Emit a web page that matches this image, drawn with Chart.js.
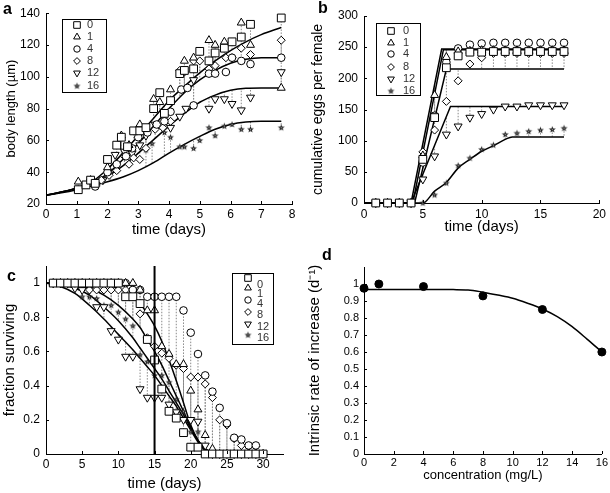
<!DOCTYPE html>
<html lang="en">
<head>
<meta charset="UTF-8">
<title>Growth, reproduction and survival panels</title>
<script src="https://cdn.jsdelivr.net/npm/chart.js@4.4.1/dist/chart.umd.min.js"></script>
<style>
  body { margin: 0; background: #fff; }
  .panel { position: absolute; }
</style>
</head>
<body>
<div class="panel" style="left:0;top:0"><canvas id="chartA" width="305" height="245"></canvas></div>
<div class="panel" style="left:305px;top:0"><canvas id="chartB" width="305" height="245"></canvas></div>
<div class="panel" style="left:0;top:245px"><canvas id="chartC" width="305" height="248"></canvas></div>
<div class="panel" style="left:305px;top:245px"><canvas id="chartD" width="305" height="248"></canvas></div>
<script>
// ---- data: panel a, body length ----
const concLabels = ['0', '1', '4', '8', '12', '16'];

const a0Days = [1.05,1.3,1.45,1.6,2.0,2.3,2.45,2.65,2.85,3.05,3.25,3.5,3.7,3.85,4.05,4.35,4.5,4.8,5.0,5.3,5.5,5.8,6.05,6.35,6.65,7.65];
const a0Len  = [29,32,35,33,48,57,62,56,66,66,68,80,90,77,85,102,104,105,116,110,115,118,122,125,133,137];
const a1Days = [1.05,1.45,2.0,2.45,2.7,3.05,3.5,3.7,4.05,4.5,4.8,5.3,5.5,5.8,6.35,6.65,7.65];
const a1Len  = [34,35,43,63,57,70,86,84,92,110,112,123,120,122,134,120,93];
const a4Days = [1.6,2.0,2.3,2.6,2.8,3.0,3.3,3.6,3.85,4.05,4.4,4.6,4.8,5.3,5.5,5.85,6.05,6.35,6.65,7.65];
const a4Len  = [31,40,45,50,55,62,65,70,72,78,92,93,82,102,102,103,112,110,108,112];
const a8Days = [1.35,1.8,2.05,2.3,2.55,2.7,2.85,3.05,3.25,3.55,3.8,4.05,4.35,4.5,4.8,5.0,5.3,5.5,5.85,6.05,6.35,6.65,7.65];
const a8Len  = [32,35,38,41,50,45,49,48,55,67,68,72,104,103,110,110,105,107,112,112,118,114,123];
const a12Days = [1.45,1.85,2.25,2.55,2.8,3.05,3.25,3.55,4.05,4.35,4.55,4.8,5.3,5.5,5.8,6.05,6.35,6.65,7.65];
const a12Len  = [34,35,51,53,52,57,63,70,68,75,80,98,80,86,86,83,79,87,103];
const a16Days = [1.7,1.85,2.1,3.25,3.45,3.85,4.05,4.35,4.5,4.8,5.0,5.3,5.5,5.8,6.05,6.35,6.65,7.65];
const a16Len  = [33,35,40,54,58,65,62,56,56,55,60,68,63,69,70,67,67,68];

const aCurveDays = [0,0.5,1,1.5,2,2.5,3,3.5,4,4.5,5,5.5,6,6.5,7,7.65];
const aCurveHigh = [25.5,27.5,30,34,42,52,63,74,85,94,102.5,110,116.5,122,126.5,131];
const aCurveMid  = [25.5,27.5,30,33.5,39,48,58,69,80,90,98,104,108.5,111,112,112];
const aCurveLow  = [25.5,27.5,30,33,37.5,44,52,60.5,69,77,84,88.5,91.5,92.8,93,93];
const aCurveMin  = [25.5,27,29,31.5,34,37,41,46,52,57.5,62.5,67,70,71.5,72,72];

// ---- data: panel b, cumulative eggs ----
const bDays = [1,2,3,4,5,6,7,8,9,10,11,12,13,14,15,16,17];
const b0  = [0,0,0,0,70,137,217,236,242,242,243,243,243,243,243,243,243];
const b1  = [0,0,0,0,76,173,234,243,244,245,245,245,245,245,245,245,245];
const b4  = [0,0,0,0,65,140,226,248,254,256,257,257,257,257,257,257,257];
const b8  = [0,0,0,0,82,117,163,196,223,233,240,240,240,240,240,240,240];
const b12 = [0,0,0,0,38,75,110,123,137,143,150,155,155,157,157,157,157];
const b16 = [0,0,0,0,0,13,32,60,72,86,93,110,112,115,117,118,120];

const bTopDays = [0,4,6.6,17];        const bTopEggs = [0,0,247,247];
const bTop2Days = [0,4.15,6.75,17];   const bTop2Eggs = [0,0,246,246];
const b8CurveDays = [0,4.3,7,17];     const b8CurveEggs = [0,0,215,215];
const b12CurveDays = [0,4,7.35,17];   const b12CurveEggs = [0,0,155,155];
const b16CurveDays = [0,5,6,7,8,9,10,11,12,12.6,17];
const b16CurveEggs = [0,0,19,33,56,70,83,92,102,106,106];

// ---- data: panel c, survival ----
const cDays = [1,2,3,4,5,6,7,8,9,10,11,12,13,14,15,16,17,18,19,20,21,22,23,24,25,26,27,28,29,30];
const c0  = [1,1,1,1,1,1,1,1,1,1,0.92,0.92,0.88,0.67,0.55,0.38,0.25,0.21,0.125,0.04,0.04,0,0,0,0,0,0,0,0,0];
const c1  = [1,1,1,1,1,1,1,1,1,1,1,1,0.96,0.84,0.84,0.63,0.585,0.525,0.525,0.37,0.26,0.11,0.03,0,0,0,0,0,0,0];
const c4  = [1,1,1,1,1,1,1,1,1,1,1,0.96,0.96,0.92,0.92,0.92,0.92,0.92,0.84,0.71,0.585,0.46,0.365,0.27,0.18,0.095,0.085,0.05,0.05,0];
const c8  = [1,1,1,1,1,0.96,0.96,0.96,0.96,0.96,0.96,0.96,0.82,0.68,0.63,0.59,0.56,0.52,0.5,0.45,0.45,0.41,0.33,0.2,0.17,0.09,0.05,0.045,0.045,0];
const c12 = [1,1,1,0.97,0.96,0.96,0.86,0.86,0.72,0.67,0.57,0.57,0.38,0.33,0.33,0.33,0.29,0.245,0.2,0.2,0.19,0.05,0,0,0,0,0,0,0,0];
const c16 = [1,1,1,1,0.92,0.92,0.91,0.87,0.87,0.83,0.79,0.75,0.58,0.54,0.46,0.46,0.42,0.32,0.25,0.13,0.13,0,0,0,0,0,0,0,0,0];

const cCurveDays = [0,2,4,6,8,10,12,13,14,15,16,17,18,19,20,21,22,23,24,30];
const cCurve1 = [1,1,1,1,0.99,0.97,0.92,0.88,0.82,0.75,0.66,0.55,0.43,0.3,0.17,0.08,0.03,0.005,0,0];
const cCurve2 = [1,1,0.99,0.97,0.93,0.87,0.79,0.74,0.67,0.6,0.52,0.43,0.34,0.25,0.16,0.08,0.03,0.005,0,0];
const cCurve3 = [1,0.99,0.97,0.93,0.86,0.78,0.68,0.62,0.56,0.5,0.44,0.37,0.3,0.23,0.15,0.08,0.03,0.005,0,0];
const cCurve4 = [1,0.98,0.94,0.87,0.79,0.7,0.61,0.56,0.51,0.46,0.4,0.34,0.28,0.21,0.14,0.07,0.02,0,0,0];
const cMarkDay = 15;

// ---- data: panel d, intrinsic rate ----
const dConc = [0,1,4,8,12,16];
const dRate = [0.975,1.0,0.985,0.93,0.85,0.6];
const dCurveConc = [0,2,4,6,7,8,9,10,11,12,13,14,15,16];
const dCurveRate = [0.968,0.968,0.968,0.967,0.965,0.952,0.935,0.916,0.887,0.853,0.808,0.749,0.676,0.6];

// ---- tick labels ----
const aXTicks = [0,1,2,3,4,5,6,7,8];
const aYTicks = [20,40,60,80,100,120,140];
const bXTicks = [0,5,10,15,20];
const bYTicks = [0,50,100,150,200,250,300];
const cXTicks = [0,5,10,15,20,25,30];
const cYTicks = [0,0.2,0.4,0.6,0.8,1];
const dXTicks = [0,2,4,6,8,10,12,14,16];
const dYTicks = [0,0.1,0.2,0.3,0.4,0.5,0.6,0.7,0.8,0.9,1];

const FONT = "'Liberation Sans', Arial, Helvetica, sans-serif";
Chart.defaults.font.family = FONT;
Chart.defaults.color = '#000';

// small filled star, drawn once and reused as a point image
function makeStar() {
  const c = document.createElement('canvas');
  c.width = 9; c.height = 9;
  const g = c.getContext('2d');
  g.beginPath();
  for (let k = 0; k < 10; k++) {
    const r = k % 2 ? 1.5 : 3.6, t = -Math.PI / 2 + k * Math.PI / 5;
    const px = 4.5 + r * Math.cos(t), py = 4.7 + r * Math.sin(t);
    k ? g.lineTo(px, py) : g.moveTo(px, py);
  }
  g.closePath();
  g.fillStyle = '#222'; g.fill();
  g.fillStyle = '#bbb'; g.fillRect(4, 4.2, 1, 1);
  return c;
}
const starIcon = makeStar();

// one marker style per concentration
const markers = [
  { pointStyle: 'rect', radius: 5.5, rotation: 0 },
  { pointStyle: 'triangle', radius: 4.6, rotation: 0 },
  { pointStyle: 'circle', radius: 3.8, rotation: 0 },
  { pointStyle: 'rectRot', radius: 4, rotation: 0 },
  { pointStyle: 'triangle', radius: 4.6, rotation: 180 },
  { pointStyle: starIcon, radius: 4, rotation: 0 }
];

const pts = (xs, ys) => xs.map((x, i) => ({ x, y: ys[i] }));
function curveAt(cx, cy, x) {
  for (let i = 1; i < cx.length; i++) {
    if (x <= cx[i]) { const t = (x - cx[i - 1]) / (cx[i] - cx[i - 1]); return cy[i - 1] + t * (cy[i] - cy[i - 1]); }
  }
  return cy[cy.length - 1];
}
function residuals(groups) {
  const out = [];
  groups.forEach(([px, py, cx, cy]) => {
    px.forEach((x, i) => { out.push({ x, y: py[i] }, { x, y: curveAt(cx, cy, x) }, { x, y: null }); });
  });
  return out;
}
const markerSet = (xs, ys, m) => ({ data: pts(xs, ys), pointStyle: m.pointStyle, pointRadius: m.radius, pointRotation: m.rotation,
  pointBackgroundColor: '#fff', pointBorderColor: '#000', pointBorderWidth: 1, showLine: false, clip: false });
const curveSet = (xs, ys, smooth) => ({ data: pts(xs, ys), showLine: true, borderColor: '#000', borderWidth: 1.5,
  pointRadius: 0, cubicInterpolationMode: smooth ? 'monotone' : 'default', tension: 0 });
const residSet = list => ({ data: list, showLine: true, borderColor: '#888', borderWidth: 1, borderDash: [1.5, 1.5], pointRadius: 0, spanGaps: false });

function axes(o) {
  return {
    x: {
      type: 'linear', min: o.xMin, max: o.xMax,
      afterBuildTicks: s => { s.ticks = o.xTicks.map(v => ({ value: v })); },
      afterFit: s => { s.height = o.xH; },
      grid: { display: false, drawTicks: false },
      border: { display: true, color: '#000', width: 1 },
      ticks: { color: '#000', font: { size: o.tick }, padding: o.xPad, maxRotation: 0, callback: v => String(v) },
      title: { display: true, text: o.xTitle, color: '#000', font: { size: o.xTitleSize }, padding: { top: 0, bottom: o.xTitlePad } }
    },
    y: {
      type: 'linear', min: o.yMin, max: o.yMax,
      afterBuildTicks: s => { s.ticks = o.yTicks.map(v => ({ value: v })); },
      afterFit: s => { s.width = o.yW; },
      grid: { display: false, drawTicks: false },
      border: { display: true, color: '#000', width: 1 },
      ticks: { color: '#000', font: { size: o.tick }, padding: o.yPad, callback: v => String(v) },
      title: { display: true, text: o.yTitle, color: '#000', font: { size: o.yTitleSize }, padding: { top: o.yTitlePad, bottom: 0 } }
    }
  };
}

// inward tick marks, panel letter, boxed legend
function decor(opt) {
  return {
    id: 'decor',
    afterDatasetsDraw(chart) {
      const { ctx } = chart, xs = chart.scales.x, ys = chart.scales.y;
      ctx.save();
      ctx.strokeStyle = '#000'; ctx.lineWidth = 1;
      ctx.beginPath();
      xs.ticks.forEach(t => { const p = Math.round(xs.getPixelForValue(t.value)) + 0.5; ctx.moveTo(p, ys.bottom); ctx.lineTo(p, ys.bottom - 3); });
      ys.ticks.forEach(t => { const p = Math.round(ys.getPixelForValue(t.value)) + 0.5; ctx.moveTo(xs.left, p); ctx.lineTo(xs.left + 3, p); });
      ctx.stroke();
      if (opt.markDay !== undefined) {
        const p = xs.getPixelForValue(opt.markDay);
        ctx.lineWidth = 2; ctx.beginPath(); ctx.moveTo(p, ys.top); ctx.lineTo(p, ys.bottom); ctx.stroke();
      }
      if (opt.legend) {
        const L = opt.legend;
        ctx.fillStyle = '#fff'; ctx.fillRect(L.box[0], L.box[1], L.box[2], L.box[3]);
        ctx.lineWidth = 1; ctx.strokeStyle = '#000';
        ctx.strokeRect(L.box[0] + 0.5, L.box[1] + 0.5, L.box[2], L.box[3]);
        ctx.font = '11px ' + FONT; ctx.textBaseline = 'middle'; ctx.textAlign = 'left';
        concLabels.forEach((lab, i) => {
          const m = markers[i];
          ctx.fillStyle = '#fff'; ctx.strokeStyle = '#000'; ctx.lineWidth = 1;
          Chart.helpers.drawPoint(ctx, { pointStyle: m.pointStyle, radius: m.radius * 0.85, rotation: m.rotation, borderWidth: 1 }, L.markX, L.rows[i]);
          ctx.fillStyle = '#333';
          ctx.fillText(lab, L.textX, L.textRows ? L.textRows[i] : L.rows[i]);
        });
      }
      ctx.font = 'bold 16px ' + FONT; ctx.fillStyle = '#000'; ctx.textBaseline = 'alphabetic'; ctx.textAlign = 'left';
      ctx.fillText(opt.letter, opt.letterPos[0], opt.letterPos[1]);
      ctx.restore();
    }
  };
}

function build(id, datasets, scales, padding, plugin) {
  return new Chart(document.getElementById(id), {
    type: 'scatter',
    data: { datasets },
    options: {
      responsive: false, animation: false, events: [],
      layout: { padding },
      plugins: { legend: { display: false }, tooltip: { enabled: false } },
      scales
    },
    plugins: [plugin]
  });
}

// panel a
build('chartA', [
  markerSet(a0Days, a0Len, markers[0]), markerSet(a1Days, a1Len, markers[1]), markerSet(a4Days, a4Len, markers[2]),
  markerSet(a8Days, a8Len, markers[3]), markerSet(a12Days, a12Len, markers[4]), markerSet(a16Days, a16Len, markers[5]),
  curveSet(aCurveDays, aCurveHigh, true), curveSet(aCurveDays, aCurveMid, true),
  curveSet(aCurveDays, aCurveLow, true), curveSet(aCurveDays, aCurveMin, true),
  residSet(residuals([
    [a0Days, a0Len, aCurveDays, aCurveHigh], [a1Days, a1Len, aCurveDays, aCurveHigh],
    [a4Days, a4Len, aCurveDays, aCurveMid], [a8Days, a8Len, aCurveDays, aCurveMid],
    [a12Days, a12Len, aCurveDays, aCurveLow], [a16Days, a16Len, aCurveDays, aCurveMin]]))
], axes({ xMin: 0, xMax: 8, xTicks: aXTicks, yMin: 20, yMax: 140, yTicks: aYTicks, xH: 41, yW: 46, tick: 12,
  xPad: 3, yPad: 6, xTitle: 'time (days)', xTitleSize: 15, xTitlePad: 6, yTitle: 'body length (\u00b5m)', yTitleSize: 13, yTitlePad: 4 }),
  { left: 0, top: 11, right: 13, bottom: 0 },
  decor({ letter: 'a', letterPos: [3, 14], legend: { box: [62, 19, 44, 73], markX: 77, textX: 87, rows: [25, 37, 49, 61, 73, 86] } }));

// panel b
build('chartB', [
  markerSet(bDays, b0, markers[0]), markerSet(bDays, b1, markers[1]), markerSet(bDays, b4, markers[2]),
  markerSet(bDays, b8, markers[3]), markerSet(bDays, b12, markers[4]), markerSet(bDays, b16, markers[5]),
  curveSet(bTopDays, bTopEggs), curveSet(bTop2Days, bTop2Eggs), curveSet(b8CurveDays, b8CurveEggs),
  curveSet(b12CurveDays, b12CurveEggs), curveSet(b16CurveDays, b16CurveEggs, true),
  residSet(residuals([
    [bDays, b0, bTopDays, bTopEggs], [bDays, b1, bTopDays, bTopEggs], [bDays, b4, bTop2Days, bTop2Eggs],
    [bDays, b8, b8CurveDays, b8CurveEggs], [bDays, b12, b12CurveDays, b12CurveEggs], [bDays, b16, b16CurveDays, b16CurveEggs]]))
], axes({ xMin: 0, xMax: 20, xTicks: bXTicks, yMin: 0, yMax: 300, yTicks: bYTicks, xH: 42, yW: 59, tick: 12,
  xPad: 4, yPad: 6, xTitle: 'time (days)', xTitleSize: 15, xTitlePad: 9, yTitle: 'cumulative eggs per female', yTitleSize: 14, yTitlePad: 5 }),
  { left: 0, top: 16, right: 8, bottom: 0 },
  decor({ letter: 'b', letterPos: [13, 13], legend: { box: [71, 23, 44, 72], markX: 86, textX: 98, rows: [31, 43, 54, 67, 79, 91] } }));

// panel c
build('chartC', [
  markerSet(cDays, c0, markers[0]), markerSet(cDays, c1, markers[1]), markerSet(cDays, c4, markers[2]),
  markerSet(cDays, c8, markers[3]), markerSet(cDays, c12, markers[4]), markerSet(cDays, c16, markers[5]),
  curveSet(cCurveDays, cCurve1, true), curveSet(cCurveDays, cCurve2, true),
  curveSet(cCurveDays, cCurve3, true), curveSet(cCurveDays, cCurve4, true),
  residSet(residuals([
    [cDays, c0, cCurveDays, cCurve2], [cDays, c1, cCurveDays, cCurve1], [cDays, c4, cCurveDays, cCurve1],
    [cDays, c8, cCurveDays, cCurve2], [cDays, c12, cCurveDays, cCurve4], [cDays, c16, cCurveDays, cCurve3]]))
], axes({ xMin: 0, xMax: 32.75, xTicks: cXTicks, yMin: 0, yMax: 1.1, yTicks: cYTicks, xH: 39, yW: 46, tick: 12,
  xPad: 3, yPad: 6, xTitle: 'time (days)', xTitleSize: 15, xTitlePad: 0, yTitle: 'fraction surviving', yTitleSize: 15, yTitlePad: 1 }),
  { left: 0, top: 21, right: 22, bottom: 0 },
  decor({ letter: 'c', letterPos: [7, 36], markDay: cMarkDay,
    legend: { box: [232, 28, 41, 71], markX: 248, textX: 257, rows: [33, 43, 55, 67, 79, 90], textRows: [40, 49, 59, 70, 82, 93] } }));

// panel d
build('chartD', [
  { data: pts(dConc, dRate), pointStyle: 'circle', pointRadius: 4, pointBackgroundColor: '#000', pointBorderColor: '#000', showLine: false, clip: false },
  curveSet(dCurveConc, dCurveRate, true)
], axes({ xMin: 0, xMax: 16, xTicks: dXTicks, yMin: 0, yMax: 1.1, yTicks: dYTicks, xH: 39, yW: 59, tick: 11,
  xPad: 2, yPad: 5, xTitle: 'concentration (mg/L)', xTitleSize: 13, xTitlePad: 10,
  yTitle: 'Intrinsic rate of increase (d\u207b\u00b9)', yTitleSize: 15, yTitlePad: 1 }),
  { left: 0, top: 22, right: 7, bottom: 0 },
  decor({ letter: 'd', letterPos: [17, 15] }));
</script>
</body>
</html>
